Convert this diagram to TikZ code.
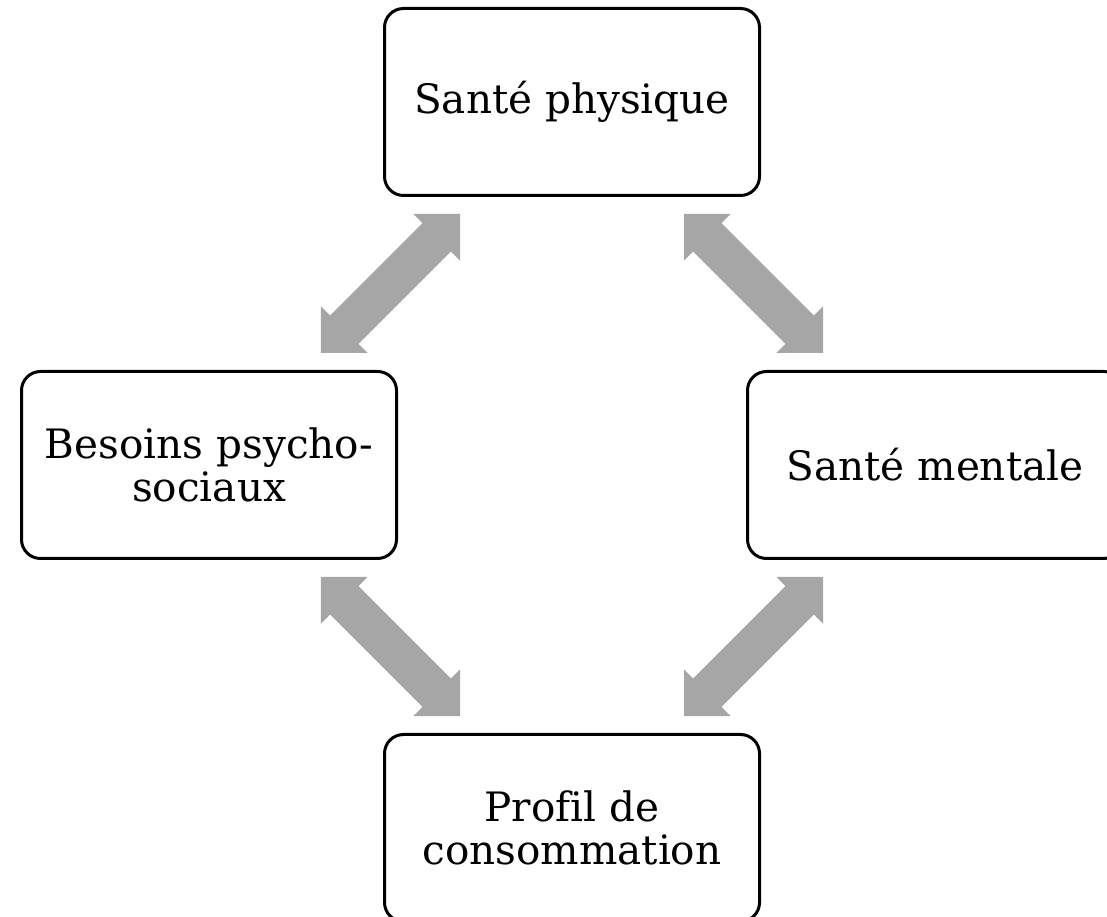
\documentclass[tikz,border=0pt]{standalone}
\usepackage{fontspec}
\setmainfont[Ligatures=NoCommon]{DejaVu Serif}
\usetikzlibrary{calc}

\definecolor{arrowgray}{HTML}{A6A6A6}

\tikzset{
  box/.style={draw=black, line width=3pt, rounded corners=19pt, fill=white,
    minimum width=375pt, minimum height=187pt, align=center, inner sep=0pt,
    font=\fontsize{40.5}{43}\selectfont},
  arrowfill/.style={fill=arrowgray, draw=none}
}

% Double-headed block arrow centred between two nodes, pointing along their centre line
\newcommand\biarrow[2]{%
  \fill[arrowfill] let \p1=($(#2.center)-(#1.center)$), \n1={atan2(\y1,\x1)} in
    ($(#1.center)!.5!(#2.center)$) ++(\n1:98.3pt) -- ++(\n1+135:46.67pt)
    -- ++(\n1-90:13pt) -- ++(\n1+180:130.6pt) -- ++(\n1+90:13pt)
    -- ++(\n1-135:46.67pt) -- ++(\n1-45:46.67pt) -- ++(\n1+90:13pt)
    -- ++(\n1:130.6pt) -- ++(\n1-90:13pt) -- cycle;}

\begin{document}
\begin{tikzpicture}[x=1pt,y=1pt]
  \useasboundingbox (0,0) rectangle (1107,917);
  \clip (0,0) rectangle (1107,917);

  \node[box] (phys) at (572,815) {Santé physique};
  \node[box] (psy)  at (209,452) {Besoins psycho-\\sociaux};
  \node[box] (ment) at (935,452) {Santé mentale};
  \node[box] (cons) at (572,89)  {Profil de\\consommation};

  \biarrow{psy}{phys}
  \biarrow{phys}{ment}
  \biarrow{psy}{cons}
  \biarrow{cons}{ment}
\end{tikzpicture}
\end{document}
